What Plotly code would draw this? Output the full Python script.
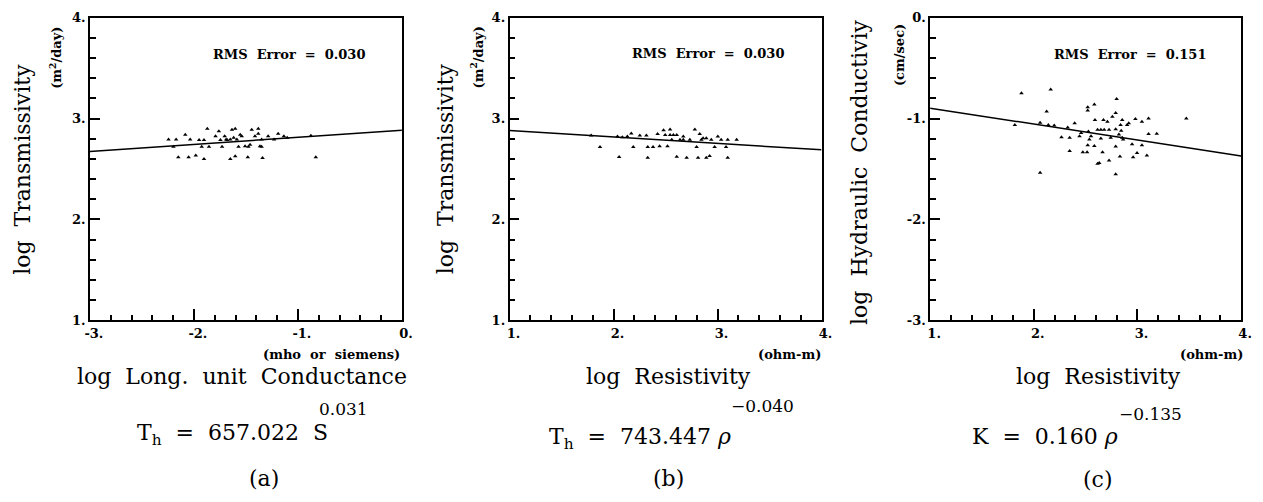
import plotly.graph_objects as go

W, H = 1263, 502

# ---------------- data ----------------
a_x = [-2.244, -2.171, -2.197, -2.15, -2.083, -2.051, -2.036, -1.982, -1.95, -1.903, -1.903, -1.925,
       -1.871, -1.855, -1.792, -1.76, -1.729, -1.704, -1.69, -1.65, -1.634, -1.603, -1.65, -1.603,
       -1.587, -1.571, -1.54, -1.508, -1.482, -1.46, -1.444, -1.381, -1.381, -1.349, -1.349, -1.34,
       -1.286, -1.229, -1.19, -1.135, -1.103, -0.875, -0.828, -1.745, -1.68, -1.618, -1.555, -1.476,
       -1.365, -1.413]
a_y = [2.793, 2.793, 2.72, 2.617, 2.84, 2.617, 2.793, 2.633, 2.787, 2.787, 2.6, 2.72,
       2.9, 2.72, 2.825, 2.875, 2.72, 2.825, 2.793, 2.793, 2.89, 2.9, 2.6, 2.626,
       2.793, 2.72, 2.825, 2.726, 2.617, 2.74, 2.89, 2.9, 2.85, 2.793, 2.72, 2.61,
       2.825, 2.793, 2.85, 2.825, 2.809, 2.83, 2.617, 2.787, 2.787, 2.809, 2.84, 2.72,
       2.726, 2.825]
a_line_x = [-3.0, 0.0]
a_line_y = [2.673, 2.885]

b_x = [1.785, 1.87, 2.038, 2.054, 2.085, 2.133, 2.171, 2.19, 2.253, 2.316, 2.329, 2.329,
       2.38, 2.424, 2.443, 2.481, 2.497, 2.519, 2.544, 2.56, 2.576, 2.608, 2.639, 2.671,
       2.703, 2.734, 2.782, 2.799, 2.829, 2.813, 2.861, 2.892, 2.924, 2.94, 2.972, 3.003,
       3.035, 3.082, 3.098, 3.098, 3.184, 2.608, 2.671, 2.845, 2.892, 2.544]
b_y = [2.831, 2.718, 2.821, 2.619, 2.815, 2.821, 2.853, 2.718, 2.831, 2.831, 2.612, 2.718,
       2.718, 2.847, 2.725, 2.885, 2.837, 2.725, 2.891, 2.789, 2.837, 2.622, 2.789, 2.821,
       2.612, 2.789, 2.891, 2.718, 2.847, 2.612, 2.805, 2.612, 2.628, 2.789, 2.718, 2.821,
       2.789, 2.718, 2.612, 2.789, 2.789, 2.837, 2.789, 2.789, 2.805, 2.837]
b_line_x = [1.0, 4.0]
b_line_y = [2.882, 2.69]

c_x = [1.881, 2.163, 1.817, 2.061, 2.124, 2.061, 2.14, 2.197, 2.267, 2.327, 2.346, 2.346,
       2.394, 2.441, 2.457, 2.473, 2.514, 2.52, 2.52, 2.527, 2.536, 2.52, 2.552, 2.584,
       2.59, 2.584, 2.615, 2.615, 2.631, 2.647, 2.663, 2.679, 2.71, 2.726, 2.742, 2.758,
       2.79, 2.799, 2.79, 2.79, 2.79, 2.821, 2.831, 2.837, 2.843, 2.853, 2.853, 2.862,
       2.9, 2.916, 2.948, 2.958, 2.98, 2.996, 3.043, 3.043, 3.091, 3.107, 3.107, 3.186,
       3.471, 2.672, 2.647, 2.726]
c_y = [-0.749, -0.711, -1.063, -1.537, -0.929, -1.041, -1.063, -1.069, -1.185, -1.089, -1.191, -1.322,
       -1.047, -1.175, -1.143, -1.335, -1.335, -0.887, -0.919, -1.127, -1.207, -1.265, -1.175, -0.861,
       -1.015, -1.271, -1.111, -1.447, -1.441, -1.111, -1.335, -1.111, -1.031, -1.415, -1.191, -0.983,
       -1.105, -0.807, -0.945, -1.278, -1.553, -1.159, -1.377, -1.063, -1.121, -1.191, -1.015, -1.207,
       -1.063, -1.047, -1.255, -1.383, -1.005, -1.341, -1.031, -1.265, -1.367, -0.999, -1.153, -1.15,
       -0.999, -1.015, -1.197, -1.111]
c_line_x = [1.0, 4.0]
c_line_y = [-0.897, -1.370]

a_xticks = [-3, -2, -1, 0]
a_xticktext = ["-3.", "-2.", "-1.", "0."]
res_xticks = [1, 2, 3, 4]
res_xticktext = ["1.", "2.", "3.", "4."]
t_yticks = [1, 2, 3, 4]
t_yticktext = ["1.", "2.", "3.", "4."]
k_yticks = [-3, -2, -1, 0]
k_yticktext = ["-3.", "-2.", "-1.", "0."]

# ---------------- layout helpers ----------------
def px(x):
    return x / W

def py(y):
    return 1 - y / H

SERIF = "DejaVu Serif"
TICKFONT = dict(family="DejaVu Serif", size=13, color="black", weight="bold")


def alias(vals, text):
    d = {}
    for v, t in zip(vals, text):
        d[str(v)] = t
        d[str(v).replace("-", "\u2212")] = t
    return d


fig = go.Figure()

panels = [
    ("x", "y", a_x, a_y, a_line_x, a_line_y),
    ("x2", "y2", b_x, b_y, b_line_x, b_line_y),
    ("x3", "y3", c_x, c_y, c_line_x, c_line_y),
]
for xa, ya, sx, sy, lx, ly in panels:
    fig.add_trace(go.Scatter(x=lx, y=ly, xaxis=xa, yaxis=ya, mode="lines",
                             line=dict(color="black", width=1.5), showlegend=False,
                             hoverinfo="skip"))
    fig.add_trace(go.Scatter(x=sx, y=sy, xaxis=xa, yaxis=ya, mode="markers",
                             marker=dict(symbol="triangle-up", size=4, color="black"),
                             showlegend=False))


def common(rng, vals, text, ticklen):
    return dict(range=rng, tickmode="linear", tick0=0, dtick=1,
                labelalias=alias(vals, text), ticks="inside", ticklen=ticklen,
                tickwidth=1.6, tickcolor="black", showline=True, linecolor="black",
                linewidth=1.5, mirror=True, showgrid=False, zeroline=False,
                tickfont=TICKFONT,
                minor=dict(tickmode="linear", tick0=0, dtick=0.2, ticks="inside",
                           ticklen=6, tickwidth=1.5, tickcolor="black", showgrid=False))


def xaxis(dom, rng, vals, text, anchor):
    d = common(rng, vals, text, 12)
    d.update(domain=[px(dom[0]), px(dom[1])], anchor=anchor, ticklabelshift=4)
    return d


def yaxis(anchor, rng, vals, text):
    d = common(rng, vals, text, 10)
    d.update(domain=[py(323), py(11)], anchor=anchor)
    return d


fig.update_layout(
    width=W, height=H, margin=dict(l=0, r=0, t=0, b=0),
    paper_bgcolor="white", plot_bgcolor="white",
    xaxis=xaxis((86, 402), [-3, 0], a_xticks, a_xticktext, "y"),
    yaxis=yaxis("x", [1, 4], t_yticks, t_yticktext),
    xaxis2=xaxis((511, 827), [1, 4], res_xticks, res_xticktext, "y2"),
    yaxis2=yaxis("x2", [1, 4], t_yticks, t_yticktext),
    xaxis3=xaxis((937, 1252), [1, 4], res_xticks, res_xticktext, "y3"),
    yaxis3=yaxis("x3", [-3, 0], k_yticks, k_yticktext),
)


def ann(text, x, y, size, xanchor="center", angle=0, bold=False, family=SERIF):
    font = dict(family=family, size=size, color="black")
    if bold:
        font["weight"] = "bold"
    fig.add_annotation(text=text, x=px(x), y=py(y), xref="paper", yref="paper",
                       xanchor=xanchor, yanchor="middle", showarrow=False,
                       textangle=angle, font=font)


# y titles
ann("log  Transmissivity", 17, 167, 22, angle=-90)
ann("(m<sup>2</sup>/day)", 51, 52, 13, angle=-90, bold=True)
ann("log  Transmissivity", 446, 167, 22, angle=-90)
ann("(m<sup>2</sup>/day)", 478, 52, 13, angle=-90, bold=True)
ann("log  Hydraulic  Conductiviy", 866, 171, 22, angle=-90)
ann("(cm/sec)", 906, 50, 13, angle=-90, bold=True)

# RMS
ann("RMS  Error  =  0.030", 288, 49, 13, bold=True)
ann("RMS  Error  =  0.030", 712, 48, 13, bold=True)
ann("RMS  Error  =  0.151", 1139, 49, 13, bold=True)

# x units and titles
ann("(mho  or  siemens)", 402, 358, 13, xanchor="right", bold=True)
ann("log  Long.  unit  Conductance", 240, 381, 22)
ann("(ohm-m)", 828, 358, 13, xanchor="right", bold=True)
ann("log  Resistivity", 672, 381, 22)
ann("(ohm-m)", 1256, 358, 13, xanchor="right", bold=True)
ann("log  Resistivity", 1108, 381, 22)

# formulas
ann("T<sub>h</sub>  =  657.022  S", 230, 441, 22)
ann("0.031", 343, 414, 17)
ann("T<sub>h</sub>  =  743.447 <i>ρ</i>", 643, 445, 22)
ann("−0.040", 767, 411, 17)
ann("K  =  0.160 <i>ρ</i>", 1053, 443, 22)
ann("−0.135", 1160, 420, 17)

# panel labels
ann("(a)", 262, 486, 22)
ann("(b)", 672, 486, 22)
ann("(c)", 1107, 487, 22)

fig.write_html("out.html")
